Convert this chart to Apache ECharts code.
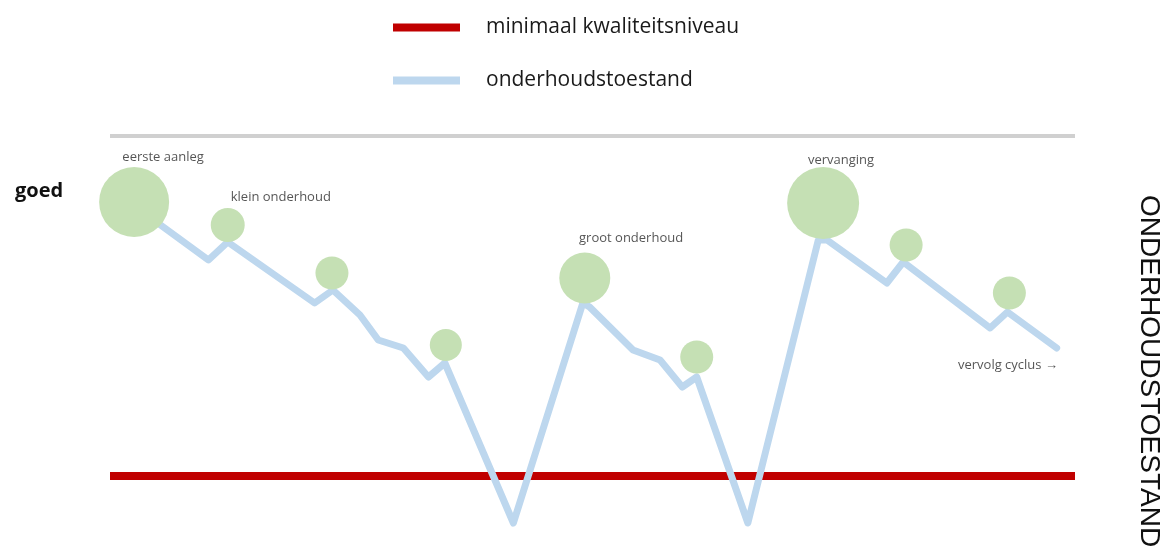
<!DOCTYPE html>
<html>
<head>
<meta charset="utf-8">
<script src="https://cdn.jsdelivr.net/npm/echarts@6/dist/echarts.min.js"></script>
<style>
  html, body { margin: 0; padding: 0; background: #fff; }
  #chart { width: 1167px; height: 547px; }
</style>
</head>
<body>
<div id="chart"></div>
<script>
// onderhoudscyclus — schematische weergave van de onderhoudstoestand
// tijd (0..100) langs x, toestand (0..100) langs y

const STATE_X = [2.4, 10.2, 12.2, 21.2, 23.1, 25.9, 27.8, 30.4, 33.0, 34.7, 41.8, 49.0, 49.7, 54.2, 57.0, 59.3, 60.8, 66.1, 73.4, 74.3, 80.5, 82.2, 91.2, 93.0, 98.1]
const STATE_Y = [82.75, 69, 73.5, 58.25, 61.5, 55.25, 49, 47, 39.75, 43.25, 3.25, 58.25, 57.25, 46.5, 44, 37.25, 39.75, 3.25, 74, 74, 63.25, 68.5, 52, 56, 47]

const EVENT_X = [2.5, 12.2, 23.0, 34.8, 49.2, 60.8, 73.9, 82.5, 93.2]
const EVENT_Y = [83.5, 77.75, 65.75, 47.75, 64.5, 44.75, 83.25, 72.75, 60.75]
const EVENT_SIZE = [70, 34, 33, 32, 51, 33, 72, 33, 33]

const NOTE_TEXT = ['eerste aanleg', 'klein onderhoud', 'groot onderhoud', 'vervanging', 'vervolg cyclus →']
const NOTE_X = [5.5, 17.7, 54.0, 75.75, 93.05]
const NOTE_Y = [94.75, 84.75, 74.5, 94, 42.75]

const MIN_LEVEL = 15
const TOP_LEVEL = 100
const SPAN = [0, 100]

const RED = '#c00000'
const BLUE = '#bdd7ee'
const GREEN = '#c5e0b4'
const GREY = '#d0d0d0'
const FONT = 'Open Sans'

const chart = echarts.init(document.getElementById('chart'))

chart.setOption({
  animation: false,
  textStyle: { fontFamily: FONT },
  grid: { left: 110, right: 92, top: 136, bottom: 11 },
  xAxis: { type: 'value', min: 0, max: 100, show: false },
  yAxis: { type: 'value', min: 0, max: 100, show: false },
  legend: {
    orient: 'vertical',
    left: 388,
    top: 12,
    itemWidth: 67,
    itemHeight: 8,
    itemGap: 32,
    icon: 'rect',
    textStyle: { fontSize: 21, color: '#1a1a1a', padding: [0, 0, 0, 21] },
    data: [
      { name: 'minimaal kwaliteitsniveau', itemStyle: { color: RED } },
      { name: 'onderhoudstoestand', itemStyle: { color: BLUE } },
    ],
  },
  graphic: [
    {
      type: 'text', left: 15, top: 181,
      style: { text: 'goed', font: 'bold 20px ' + FONT, fill: '#111' },
    },
    {
      type: 'text', x: 1163, y: 195, rotation: -Math.PI / 2,
      style: { text: 'ONDERHOUDSTOESTAND', font: '28px Liberation Sans', fill: '#111' },
    },
  ],
  series: [
    {
      name: 'bovengrens',
      type: 'line',
      symbol: 'none',
      silent: true,
      z: 1,
      lineStyle: { color: GREY, width: 4 },
      data: SPAN.map(x => [x, TOP_LEVEL]),
    },
    {
      name: 'minimaal kwaliteitsniveau',
      type: 'line',
      symbol: 'none',
      z: 1,
      itemStyle: { color: RED },
      lineStyle: { color: RED, width: 8 },
      data: SPAN.map(x => [x, MIN_LEVEL]),
    },
    {
      name: 'onderhoudstoestand',
      type: 'line',
      symbol: 'none',
      z: 2,
      itemStyle: { color: BLUE },
      lineStyle: { color: BLUE, width: 7, join: 'round', cap: 'round' },
      data: STATE_X.map((x, i) => [x, STATE_Y[i]]),
    },
    {
      name: 'ingreep',
      type: 'scatter',
      z: 3,
      itemStyle: { color: GREEN, opacity: 1 },
      data: EVENT_X.map((x, i) => ({ value: [x, EVENT_Y[i]], symbolSize: EVENT_SIZE[i] })),
    },
    {
      name: 'toelichting',
      type: 'scatter',
      z: 4,
      symbolSize: 0,
      silent: true,
      label: {
        show: true,
        position: 'inside',
        formatter: p => NOTE_TEXT[p.dataIndex],
        fontSize: 13,
        color: '#2a2a2a',
      },
      data: NOTE_X.map((x, i) => [x, NOTE_Y[i]]),
    },
  ],
})
</script>
</body>
</html>
